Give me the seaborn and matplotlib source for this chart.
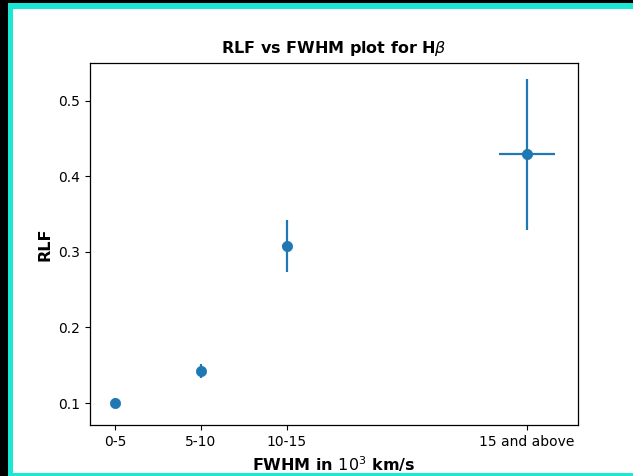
import matplotlib
matplotlib.use("Agg")
import matplotlib.pyplot as plt
from matplotlib.patches import Rectangle
import seaborn as sns
import pandas as pd
import numpy as np

# Data
categories = ["0-5", "5-10", "10-15", "15 and above"]
fwhm = [2.5, 7.5, 12.5, 26.45]
rlf = [0.100, 0.142, 0.308, 0.429]
rlf_err = [0.007, 0.009, 0.034, 0.100]
fwhm_err_low = [0.0, 0.0, 0.3, 1.63]
fwhm_err_high = [0.0, 0.0, 0.0, 1.63]

df = pd.DataFrame({"FWHM": fwhm, "RLF": rlf})

W, H = 633, 476
fig = plt.figure(figsize=(W / 100, H / 100), dpi=100)
fig.patch.set_facecolor("white")

# screenshot frame
def px_rect(x0, y0, x1, y1, color):
    fig.add_artist(Rectangle((x0 / W, 1 - y1 / H), (x1 - x0) / W, (y1 - y0) / H,
                             transform=fig.transFigure, color=color, zorder=-5, lw=0))

px_rect(0, 0, W, H, "black")
px_rect(8, 3, W, H, "#1ae8d4")
px_rect(13, 9, W, 473, "white")

ax = fig.add_axes([90 / W, 1 - 425 / H, (578 - 90) / W, (425 - 63) / H])
ax.set_facecolor("white")

ax.errorbar(fwhm, rlf, yerr=rlf_err, xerr=[fwhm_err_low, fwhm_err_high],
            fmt="none", ecolor="#1f77b4", elinewidth=1.6, zorder=2)
sns.scatterplot(data=df, x="FWHM", y="RLF", ax=ax, color="#1f77b4", s=55,
                edgecolor="#1f77b4", linewidth=0.5, zorder=3)

ax.set_xticks(fwhm)
ax.set_xticklabels(categories)
ax.set_yticks([0.1, 0.2, 0.3, 0.4, 0.5])
ax.set_xlim(1.047, 29.42)
ax.set_ylim(0.0709, 0.550)
ax.tick_params(labelsize=10)
for s in ax.spines.values():
    s.set_linewidth(0.9)

ax.set_title(r"RLF vs FWHM plot for H$\beta$", fontweight="bold", fontsize=11.5, pad=7)
ax.set_xlabel(r"FWHM in $10^3$ km/s", fontweight="bold", fontsize=11.5)
ax.set_ylabel("RLF", fontweight="bold", fontsize=11.5)

fig.savefig("out.png", dpi=100, facecolor=fig.get_facecolor())
